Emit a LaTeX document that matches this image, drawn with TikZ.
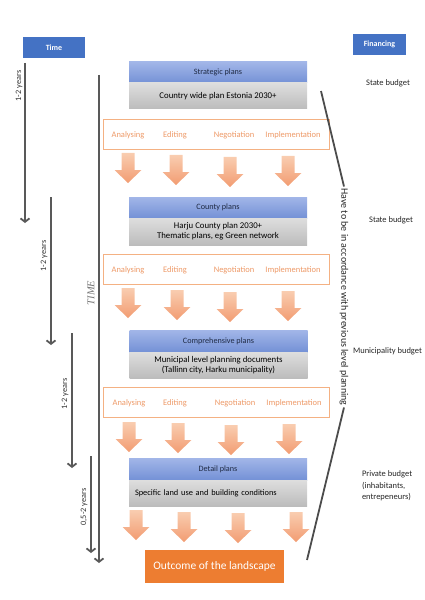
\documentclass[tikz,border=0pt]{standalone}
\usepackage{fontspec}
\setmainfont{Carlito}
\newfontfamily\serifit{Liberation Serif}
\usetikzlibrary{arrows.meta}
\definecolor{hdrblue}{HTML}{4472C4}
\definecolor{blueT}{HTML}{A2B6E8}
\definecolor{blueB}{HTML}{7491D6}
\definecolor{navy}{HTML}{1F2A44}
\definecolor{grayT}{HTML}{DEDEDE}
\definecolor{grayB}{HTML}{BCBCBC}
\definecolor{orline}{HTML}{F4B183}
\definecolor{ortext}{HTML}{EE9A68}
\definecolor{arrT}{HTML}{F9CDB0}
\definecolor{arrB}{HTML}{F29C72}
\definecolor{axisgray}{HTML}{595959}
\definecolor{outorange}{HTML}{ED7D31}
\tikzset{
  every node/.style={inner sep=0pt, outer sep=0pt},
  hdr/.style={fill=hdrblue, text=white, font=\fontsize{8}{9}\selectfont\bfseries, minimum height=21bp},
  planbox/.style={shade, top color=blueT, bottom color=blueB, minimum width=178bp, minimum height=21bp, anchor=north, text=navy, font=\fontsize{8.2}{9}\selectfont},
  descbox/.style={shade, top color=grayT, bottom color=grayB, minimum width=178bp, minimum height=26bp, anchor=north, align=center, font=\fontsize{8.8}{10}\selectfont},
  stagebox/.style={draw=orline, line width=0.8pt, fill=white, minimum width=226bp, minimum height=30bp},
  stage/.style={text=ortext, font=\fontsize{8.5}{10}\selectfont},
  budget/.style={font=\fontsize{8.5}{11.5}\selectfont, text=black!85},
  timearrow/.style={draw=axisgray, line width=1.8bp, -{Straight Barb[length=3.5pt,width=9pt]}},
  yearlbl/.style={rotate=90, font=\fontsize{8.3}{9}\selectfont, text=black!80},
  diagline/.style={draw=black!70, line width=1.8bp},
  blockarrow/.pic={\shade[top color=arrT, bottom color=arrB] (-6.5,-15) -- (6.5,-15) -- (6.5,2) -- (13.5,2) -- (0,15) -- (-13.5,2) -- (-6.5,2) -- cycle;},
}
\begin{document}
\begin{tikzpicture}[x=1bp, y=-1bp]
\useasboundingbox (0,0) rectangle (424,600);

% headers
\node[hdr, minimum width=62bp] (time) at (54,47.5) {Time};
\node[hdr, minimum width=53bp] (fin) at (379.5,44.5) {Financing};

% time axis and durations
\coordinate (axs) at (99,75);
\coordinate (axe) at (99,563);
\draw[timearrow] (axs) -- (axe);
\node[rotate=90, font=\fontsize{10.5}{12}\selectfont\serifit\itshape, text=black!55] (timelbl) at (91,293) {TIME};

\coordinate (d1s) at (25,63);  \coordinate (d1e) at (25,223);
\coordinate (d2s) at (51,197); \coordinate (d2e) at (51,345);
\coordinate (d3s) at (72,333); \coordinate (d3e) at (72,468);
\coordinate (d4s) at (91,456); \coordinate (d4e) at (91,553);
\draw[timearrow] (d1s) -- (d1e);
\draw[timearrow] (d2s) -- (d2e);
\draw[timearrow] (d3s) -- (d3e);
\draw[timearrow] (d4s) -- (d4e);
\node[yearlbl] (y1) at (19,86) {1-2 years};
\node[yearlbl] (y2) at (44,256) {1-2 years};
\node[yearlbl] (y3) at (65,394) {1-2 years};
\node[yearlbl] (y4) at (84,507) {0,5-2 years};

% level 1
\node[planbox] (strat) at (218,62) {Strategic plans};
\node[descbox] (stratd) at (strat.south) {Country wide plan Estonia 2030+};
\node[stagebox] (s1) at (216,134) {};
\node[stage] (s1a) at (128,135) {Analysing};
\node[stage] (s1b) at (175,135) {Editing};
\node[stage] (s1c) at (234,135) {Negotiation};
\node[stage] (s1d) at (293,135) {Implementation};
\pic (r1a) at (128,168) {blockarrow};
\pic (r1b) at (176,170) {blockarrow};
\pic (r1c) at (230,172) {blockarrow};
\pic (r1d) at (288,171) {blockarrow};

% level 2
\node[planbox] (county) at (218,197) {County plans};
\node[descbox, minimum height=27bp] (countyd) at (county.south) {Harju County plan 2030+\\Thematic plans, eg Green network};
\node[stagebox] (s2) at (216,269) {};
\node[stage] (s2a) at (128,270) {Analysing};
\node[stage] (s2b) at (175,270) {Editing};
\node[stage] (s2c) at (234,270) {Negotiation};
\node[stage] (s2d) at (293,270) {Implementation};
\pic (r2a) at (128,303) {blockarrow};
\pic (r2b) at (177,305) {blockarrow};
\pic (r2c) at (230,307) {blockarrow};
\pic (r2d) at (288,306) {blockarrow};

% level 3
\node[planbox, minimum height=22bp] (comp) at (218.5,330) {Comprehensive plans};
\node[descbox] (compd) at (comp.south) {Municipal level planning documents\\(Tallinn city, Harku municipality)};
\node[stagebox] (s3) at (216.5,402) {};
\node[stage] (s3a) at (129,403) {Analysing};
\node[stage] (s3b) at (175,403) {Editing};
\node[stage] (s3c) at (235,403) {Negotiation};
\node[stage] (s3d) at (294,403) {Implementation};
\pic (r3a) at (129,437) {blockarrow};
\pic (r3b) at (178,438) {blockarrow};
\pic (r3c) at (231,440) {blockarrow};
\pic (r3d) at (289,439) {blockarrow};

% level 4
\node[planbox, minimum height=22bp] (detail) at (218,458) {Detail plans};
\node[descbox, align=left, text width=166bp, inner xsep=6bp, font=\fontsize{8.4}{10}\selectfont] (detaild) at (detail.south) {Specific land use and building conditions};
\pic (r4a) at (136,525) {blockarrow};
\pic (r4b) at (184,527) {blockarrow};
\pic (r4c) at (238,528) {blockarrow};
\pic (r4d) at (296,527) {blockarrow};

% outcome
\node[fill=outorange, text=white, minimum width=139bp, minimum height=33bp, font=\fontsize{11.5}{12}\selectfont] (out) at (214.5,566.5) {Outcome of the landscape};

% accordance bracket
\node[rotate=-90, font=\fontsize{10}{11}\selectfont, text=black!85, inner sep=2bp] (acc) at (344,297) {Have to be in accordance with previous level planning};
\coordinate (bt) at (321,91);
\coordinate (bb) at (307,560);
\draw[diagline] (bt) -- (acc.west);
\draw[diagline] (acc.east) -- (bb);

% financing
\node[budget] (b1) at (388,83) {State budget};
\node[budget] (b2) at (391,220) {State budget};
\node[budget] (b3) at (387.5,351) {Municipality budget};
\node[budget, anchor=west, align=left] (b4) at (362,486) {Private budget\\(inhabitants,\\entrepeneurs)};
\end{tikzpicture}
\end{document}
